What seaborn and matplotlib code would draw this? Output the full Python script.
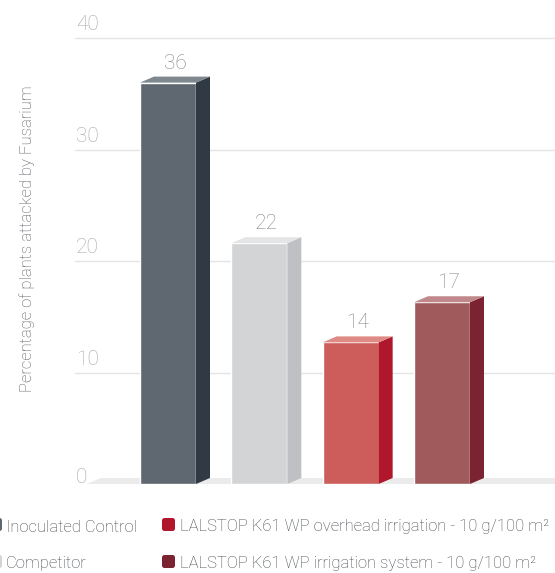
import matplotlib
matplotlib.use("Agg")
import matplotlib.pyplot as plt
import seaborn as sns
import pandas as pd
from matplotlib.patches import Polygon, FancyBboxPatch

# data
categories = ["Inoculated Control", "Competitor",
              "LALSTOP K61 WP overhead irrigation - 10 g/100 m²",
              "LALSTOP K61 WP irrigation system - 10 g/100 m²"]
bar_heights = [36.0, 21.6, 12.7, 16.3]
value_labels = ["36", "22", "14", "17"]
y_ticks = [0, 10, 20, 30, 40]

front_colors = ["#5f6770", "#d3d4d6", "#cc5d5a", "#a05a5c"]
side_colors = ["#2f3a44", "#bfc0c3", "#b0172d", "#7b2330"]
top_colors = ["#7f878f", "#e4e5e6", "#e08a86", "#c0888a"]
legend_colors = ["#5f6770", "#d3d4d6", "#b0172d", "#7b2330"]

sns.set_theme(style="white")
plt.rcParams["font.family"] = ["Roboto", "DejaVu Sans"]

W, H = 555, 573
fig = plt.figure(figsize=(W / 100, H / 100), dpi=100)

# pixel geometry of the plot area
px_unit_x = 91.33           # pixels per category step
px_unit_y = 11.15           # pixels per 1 unit of y
x0_px, y0_px = 168, 484     # first bar centre, zero line
left_px, right_px, top_px = 75, 555, 32
ax = fig.add_axes([left_px / W, 1 - y0_px / H,
                   (right_px - left_px) / W, (y0_px - top_px) / H])

df = pd.DataFrame({"cat": categories, "val": bar_heights})
bw = 56 / px_unit_x
sns.barplot(data=df, x="cat", y="val", hue="cat", palette=front_colors,
            width=bw, saturation=1, legend=False, ax=ax, zorder=3)

ax.set_xlim((left_px - x0_px) / px_unit_x, (right_px - x0_px) / px_unit_x)
ax.set_ylim(0, (y0_px - top_px) / px_unit_y)
ax.set_yticks([t for t in y_ticks if t > 0])
ax.yaxis.grid(True, color="#e4e4e4", lw=1)
ax.set_axisbelow(True)
ax.tick_params(left=False, bottom=False, labelleft=False, labelbottom=False)
ax.set_xlabel("")
ax.set_ylabel("")
sns.despine(ax=ax, left=True, bottom=True)

dx = 14 / px_unit_x
dy = 6 / px_unit_y

# floor
xl = (87 - x0_px) / px_unit_x
xr = ax.get_xlim()[1]
ax.add_patch(Polygon([(xl, 0), (xl + dx, dy), (xr, dy), (xr, 0)],
                     closed=True, color="#ebebeb", lw=0, zorder=1, clip_on=False))

for i, h in enumerate(bar_heights):
    a = i - bw / 2
    b = i + bw / 2
    ax.add_patch(Polygon([(b, 0), (b + dx, dy), (b + dx, h + dy), (b, h)],
                         closed=True, color=side_colors[i], lw=0, zorder=4))
    ax.add_patch(Polygon([(a, h), (a + dx, h + dy), (b + dx, h + dy), (b, h)],
                         closed=True, color=top_colors[i], lw=0, zorder=4))
    ax.text(i + dx / 2, h + dy + 8 / px_unit_y, value_labels[i], ha="center",
            va="baseline", fontsize=15, fontweight="light", color="#858585", zorder=5)

# tick labels above grid lines
for t in y_ticks:
    yy = t + 8 / px_unit_y if t > 0 else 0.1
    ax.text((76 - x0_px) / px_unit_x, yy, str(t), ha="left", va="baseline",
            fontsize=15, fontweight="light", color="#a8a8a8", clip_on=False)

fig.text(27 / W, 1 - 239 / H, "Percentage of plants attacked by Fusarium",
         rotation=90, ha="center", va="center", fontsize=12,
         fontweight="light", color="#53585e")

# legend
legend_pos = [(-11, 518, 6, 531.5), (-11, 555, 6, 568),
              (162, 518, 180, 531.5), (162, 555, 180, 568)]
for (mx, my, tx, ty), lab, c in zip(legend_pos, categories, legend_colors):
    fig.add_artist(FancyBboxPatch((mx / 100, (H - my - 13) / 100), 0.13, 0.13,
                                  boxstyle="round,pad=0,rounding_size=0.025",
                                  transform=fig.dpi_scale_trans, color=c, lw=0))
    fig.text(tx / W, 1 - ty / H, lab, ha="left", va="baseline",
             fontsize=12, fontweight="light", color="#42474d")

fig.savefig("out.png", dpi=100)
